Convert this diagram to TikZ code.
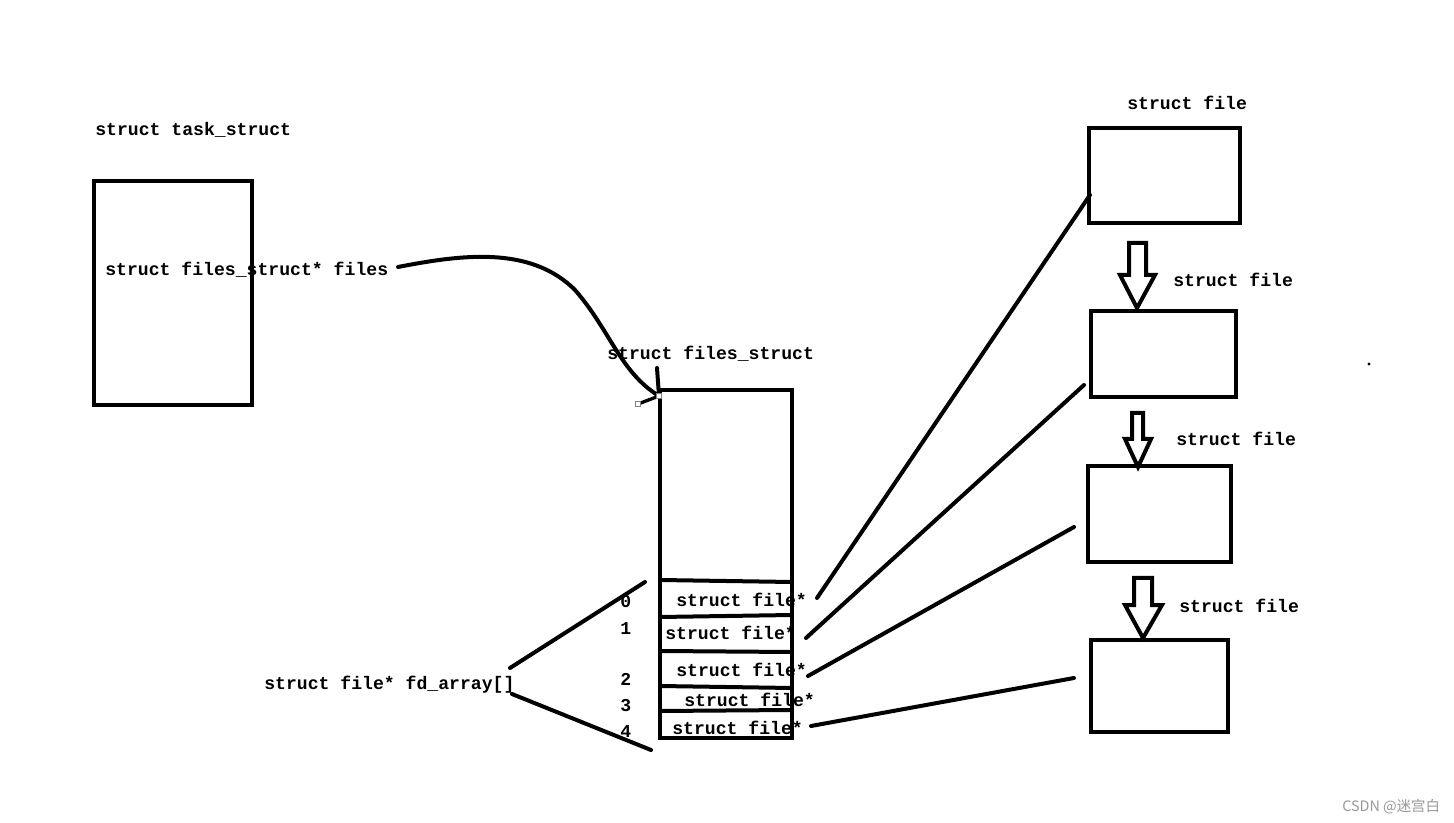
\documentclass[tikz,border=0pt]{standalone}
\usepackage{fontspec}
\setmonofont{Liberation Mono}
\newfontfamily\cjkfont{Noto Sans CJK SC}
\begin{document}
\begin{tikzpicture}[x=0.75pt,y=-0.75pt,
  thick line/.style={line width=3pt, line cap=round, line join=miter},
  boxnode/.style={draw, line width=3pt, rectangle, inner sep=0pt, anchor=center},
  lbl/.style={font=\ttfamily\bfseries\fontsize{13.6pt}{15pt}\selectfont, inner sep=0pt, anchor=base west},
  hollow/.style={draw, line width=3pt, line join=miter, fill=white},
  handle/.style={draw=gray, fill=white, line width=0.5pt, minimum size=3.5pt, inner sep=0pt}
]
\useasboundingbox (0,0) rectangle (1454,823);
\fill[white] (0,0) rectangle (1454,823);

% boxes
\node[boxnode, minimum width={158*0.75pt}, minimum height={224*0.75pt}] (task) at (173,293) {};
\node[boxnode, minimum width={132*0.75pt}, minimum height={348*0.75pt}] (fs) at (726,564) {};
\node[boxnode, minimum width={151*0.75pt}, minimum height={95*0.75pt}] (f1) at (1164.5,175.5) {};
\node[boxnode, minimum width={145*0.75pt}, minimum height={86*0.75pt}] (f2) at (1163.5,354) {};
\node[boxnode, minimum width={143*0.75pt}, minimum height={96*0.75pt}] (f3) at (1159.5,514) {};
\node[boxnode, minimum width={137*0.75pt}, minimum height={92*0.75pt}] (f4) at (1159.5,686) {};

% fd_array slots
\draw[line width=3pt] (660,580) -- (792,582);
\draw[line width=3pt] (660,617) -- (792,615);
\draw[line width=3pt] (660,651) -- (792,652);
\draw[line width=3pt] (660,686) -- (792,688);
\draw[line width=3pt] (660,711) -- (792,710);

% labels
\node[lbl] (ltask) at (95,136) {struct task\_struct};
\node[lbl] (lfiles) at (105,276) {struct files\_struct* files};
\node[lbl] (lfs) at (607,360) {struct files\_struct};
\node[lbl] (lfd) at (264,689) {struct file* fd\_array[]};
\node[lbl] (e0) at (676,606) {struct file*};
\node[lbl] (e1) at (665,639) {struct file*};
\node[lbl] (e2) at (676,676) {struct file*};
\node[lbl] (e3) at (684,706) {struct file*};
\node[lbl] (e4) at (672,734) {struct file*};
\node[lbl] (i0) at (620,608) {0};
\node[lbl] (i1) at (620,634) {1};
\node[lbl] (i2) at (620,685) {2};
\node[lbl] (i3) at (620,711) {3};
\node[lbl] (i4) at (620,737) {4};
\node[lbl] (lf1) at (1127,110) {struct file};
\node[lbl] (lf2) at (1173,287) {struct file};
\node[lbl] (lf3) at (1176,446) {struct file};
\node[lbl] (lf4) at (1179,612) {struct file};

% curve from task_struct to files_struct
\coordinate (cs) at (398,267);
\coordinate (ce) at (659,396);
\draw[thick line] (cs) .. controls (460,255) and (530,245) .. (575,290)
  .. controls (610,330) and (620,372) .. (ce);
\coordinate (tk) at (657,368);
\draw[thick line] (tk) -- (ce);
\coordinate (hs) at (638,404);
\draw[line width=2.5pt] (hs) -- (ce);
\node[handle] (h1) at (hs) {};
\node[handle] (h2) at (ce) {};

% fd_array bracket lines
\coordinate (b1s) at (510,668);
\coordinate (b1e) at (645,582);
\coordinate (b2s) at (512,694);
\coordinate (b2e) at (651,750);
\draw[thick line] (b1s) -- (b1e);
\draw[thick line] (b2s) -- (b2e);

% pointer lines
\coordinate (p0) at (817,598);
\coordinate (p1) at (806,638);
\coordinate (p2) at (808,676);
\coordinate (p3) at (811,726);
\coordinate (q1) at (1090,195);
\coordinate (q2) at (1084,385);
\coordinate (q3) at (1074,527);
\coordinate (q4) at (1074,678);
\draw[thick line] (p0) -- (q1);
\draw[thick line] (p1) -- (q2);
\draw[thick line] (p2) -- (q3);
\draw[thick line] (p3) -- (q4);

% hollow arrows
\draw[hollow] (1129,243) -- (1146,243) -- (1146,275) -- (1155,275) -- (1137,308) -- (1120,275) -- (1129,275) -- cycle;
\draw[hollow] (1132,413) -- (1143,413) -- (1143,439) -- (1151,439) -- (1138,467) -- (1125,439) -- (1132,439) -- cycle;
\draw[hollow] (1134,578) -- (1152,578) -- (1152,605) -- (1162,605) -- (1143,638) -- (1125,605) -- (1134,605) -- cycle;

% stray dot
\fill (1369,364) circle (1.6);

% watermark
\node[inner sep=0pt, anchor=base west, text=gray!80, font=\cjkfont\fontsize{10.8pt}{12pt}\selectfont] (wm) at (1342,811) {CSDN @迷宫白};
\end{tikzpicture}
\end{document}
